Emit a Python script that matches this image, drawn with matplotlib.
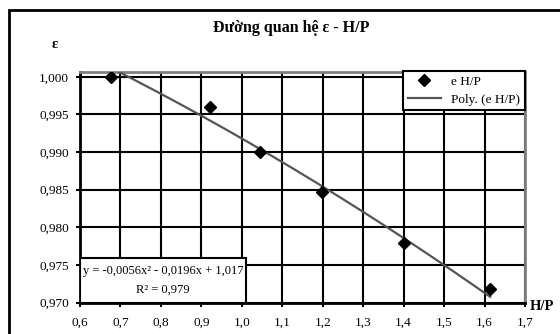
import matplotlib.pyplot as plt
import matplotlib.patches as patches
import numpy as np

# data
hp = [0.677, 0.921, 1.045, 1.198, 1.401, 1.614]
eps = [1.000, 0.996, 0.990, 0.9847, 0.9779, 0.9718]
# trendline coefficients (as printed on the chart)
poly_coef = [-0.0056, -0.0196, 1.017]

x_ticks = [0.6, 0.7, 0.8, 0.9, 1.0, 1.1, 1.2, 1.3, 1.4, 1.5, 1.6, 1.7]
y_ticks = [0.970, 0.975, 0.980, 0.985, 0.990, 0.995, 1.000]

plt.rcParams['font.family'] = ['Liberation Serif', 'DejaVu Serif']

fig = plt.figure(figsize=(5.6, 3.34), dpi=100)
ax = fig.add_axes([80/560, 1-302.7/334, 445/560, 231/334])

# outer chart border
fig.add_artist(patches.Rectangle((9/560, -0.2), 1.2, 1.2 - 10/334,
                                 transform=fig.transFigure, fill=False,
                                 edgecolor='black', linewidth=2))

xs = np.linspace(min(hp), max(hp), 200)
ax.plot(xs, np.polyval(poly_coef, xs), color='#555555', linewidth=1.6,
        label='Poly. (e H/P)', zorder=3)
ax.plot(hp, eps, linestyle='none', marker='D', markersize=6, color='black',
        label='e H/P', zorder=4)

ax.set_xlim(0.6, 1.7)
ax.set_ylim(0.970, 1.00067)
ax.set_xticks(x_ticks)
ax.set_yticks(y_ticks)
ax.set_xticklabels([f"{v:.1f}".replace('.', ',') for v in x_ticks])
ax.set_yticklabels([f"{v:.3f}".replace('.', ',') for v in y_ticks])
ax.tick_params(axis='both', labelsize=9.5, direction='out', length=3, width=1.5)
ax.tick_params(axis='x', pad=7)
ax.tick_params(axis='y', pad=5)
ax.grid(True, color='black', linewidth=1.5)
ax.set_axisbelow(True)

for side in ['left', 'bottom']:
    ax.spines[side].set_linewidth(2)
    ax.spines[side].set_color('black')
for side in ['top', 'right']:
    ax.spines[side].set_linewidth(2)
    ax.spines[side].set_color('#808080')

# legend
handles, labels = ax.get_legend_handles_labels()
leg = ax.legend(handles[::-1], labels[::-1], loc='upper right',
                bbox_to_anchor=(1.0, 1.004), borderaxespad=0, fontsize=9.5,
                fancybox=False, framealpha=1, edgecolor='black',
                handlelength=2.5, borderpad=0.35, labelspacing=0.45)
leg.get_frame().set_linewidth(1.5)

# equation box
ax.add_patch(patches.Rectangle((0, 0), 166/445, 45/231, transform=ax.transAxes,
                               facecolor='white', edgecolor='black',
                               linewidth=1.5, zorder=5))
ax.text(83/445, 32/231, 'y = -0,0056x² - 0,0196x + 1,017', transform=ax.transAxes,
        ha='center', va='center', fontsize=9, zorder=6)
ax.text(83/445, 13/231, 'R² = 0,979', transform=ax.transAxes,
        ha='center', va='center', fontsize=9, zorder=6)

fig.text(291/560, 1-28/334, 'Đường quan hệ ε - H/P', ha='center', va='center',
         fontsize=11.5, fontweight='bold')
fig.text(55/560, 1-45/334, 'ε', ha='center', va='center', fontsize=10.5,
         fontweight='bold')
fig.text(530/560, 1-306/334, 'H/P', ha='left', va='center', fontsize=10.5,
         fontweight='bold')

fig.savefig('out.png', dpi=100)
